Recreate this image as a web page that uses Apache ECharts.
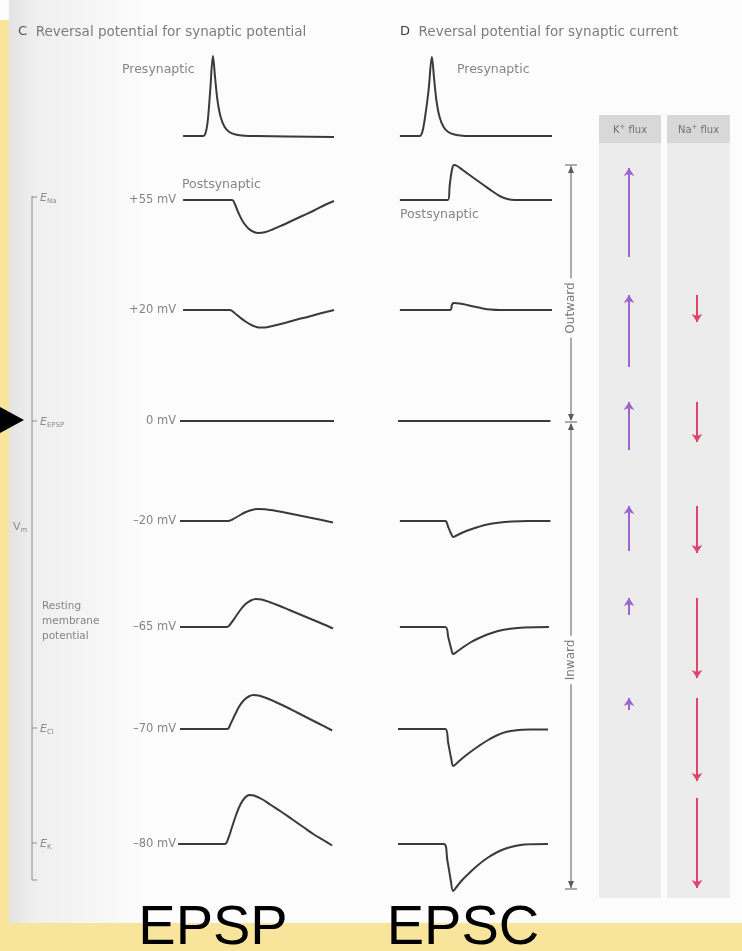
<!DOCTYPE html>
<html><head><meta charset="utf-8">
<script src="https://cdn.jsdelivr.net/npm/echarts@6/dist/echarts.min.js"></script>
<style>html,body{margin:0;padding:0;background:#fff}#c{width:742px;height:951px}</style>
</head><body><div id="c"></div>
<script>
// ---------- DATA (time in ms, deflection in display units, + = up) ----------
const rowLabels = ['+55 mV', '+20 mV', '0 mV', '\u201320 mV', '\u201365 mV', '\u201370 mV', '\u201380 mV'];
const presynC = [[1,0],[7.5,0],[8.3,3],[9,15],[9.8,45],[10.7,80],[11.4,58],[12.2,35],[13.2,19],[14.5,9],[16,4],[18,1.5],[21,0.3],[25,0],[50,-1]];
const presynD = [[0.6,0],[7,0],[7.8,3],[8.6,15],[9.9,45],[11,79],[11.7,58],[12.5,35],[13.5,19],[14.8,9],[16.3,4],[18.3,1.5],[21,0.3],[25,0],[50,0]];
const epspP55 = [[1,0],[16.9,0],[17.8,-4],[19,-13],[20.5,-22],[22.2,-28.5],[24,-32],[25.5,-33],[27.5,-32.2],[30,-29.5],[33,-25.5],[36.5,-20.5],[40,-15.5],[43.5,-10.5],[47,-5],[50,-1]];
const epspP20 = [[1,0],[16.2,0],[17.5,-2.5],[19.5,-7.5],[21.5,-12],[23.5,-15.5],[25.5,-17.5],[27.5,-17.5],[30,-16],[34,-13],[38,-9.5],[42,-6.5],[46,-3],[50,0]];
const epsp0   = [[0,0],[50,0]];
const epspM20 = [[0,0],[15.6,0],[17,1.5],[19,5],[21,8.5],[23,10.8],[25.3,12],[27.5,11.8],[30.5,10.5],[34,8.5],[38,6],[42,3.5],[46,1],[49.7,-1.5]];
const epspM65 = [[0,0],[15.3,0],[16.5,3.5],[18,10],[19.7,17.5],[21.3,23],[23,26.5],[24.6,28],[26.5,27.5],[29,25],[32,21.5],[35.5,17],[39,12.5],[42.5,8],[46,3.5],[49.7,-1.5]];
const epspM70 = [[0,0],[15.3,0],[16.4,5],[17.8,14],[19.3,23],[20.8,29],[22.3,32.5],[23.8,34],[25.5,33.5],[28,31],[31,27],[34.5,22],[38,16.5],[41.5,11],[45,5.5],[49.4,-1.5]];
const epspM80 = [[-0.6,0],[14.6,0],[15.6,5],[16.8,16],[18.2,29],[19.6,39.5],[21,46],[22.5,49],[24,48.5],[26.5,45],[29.5,39],[33,32],[36.5,24.5],[40,17],[43.5,9.5],[46.5,4],[49.4,-1.5]];
const epscP55 = [[0.6,0],[16.2,0],[16.8,15],[17.5,30],[18.2,35],[19.2,34],[21,30],[23,25.5],[25.5,20],[28,14.5],[30.5,9],[33,4],[35.5,1],[38,0],[50,0]];
const epscP20 = [[0.6,0],[16.9,0],[17.6,6],[18.3,7],[20,6.5],[22.5,5],[25,3.2],[27.5,1.6],[30,0.5],[33,0],[50,0]];
const epsc0   = [[0,0],[49.5,0]];
const epscM20 = [[0.6,0],[15.3,0],[16.3,-6],[17.3,-13],[17.9,-16],[19,-14.5],[21,-11.5],[23.5,-8.5],[26,-6],[29,-3.5],[32.5,-1.8],[37,-0.6],[42,0],[49.5,0]];
const epscM65 = [[0.6,0],[15.3,0],[16.3,-10],[17.3,-22],[17.9,-27],[19,-25],[21,-20.5],[23.5,-15.5],[26,-11.5],[29,-7.5],[32.5,-4],[36.5,-1.8],[41,-0.5],[49,0]];
const epscM70 = [[0,0],[15.3,0],[16.3,-14],[17.3,-30],[17.9,-37],[19,-34.5],[21,-29],[23.5,-23],[26,-17.5],[29,-11.5],[32,-6.5],[35,-3],[38.5,-1.2],[43,-0.6],[48.7,-0.5]];
const epscM80 = [[0,0],[14.9,0],[16,-16],[17.1,-36],[17.9,-47],[19,-43],[21,-35.5],[23.5,-28],[26,-21],[29,-14],[32,-8.5],[35,-4.5],[38,-2],[41,-0.5],[48.7,0]];
const kFlux  = [89, 72, 48, 45, 17, 12, 0];
const naFlux = [0, 27, 40, 47, 80, 83, 90];
const fluxHeaders = ['K', 'Na'];
const bottomLabels = ['EPSP', 'EPSC'];

// ---------- LAYOUT ----------
const PX = 3.08;             // px per ms
const C_X0 = 180, D_X0 = 398;
const presynBase = 136;
const rowBase = [200, 310, 421, 521, 627, 729, 844];
const fluxTop = [168, 295, 402, 506, 598, 698, 798];
const TRACE = '#3a3a3a', GREY = '#858585';
const FONT = '"DejaVu Sans", "Liberation Sans", sans-serif';

const epspRows = [epspP55, epspP20, epsp0, epspM20, epspM65, epspM70, epspM80];
const epscRows = [epscP55, epscP20, epsc0, epscM20, epscM65, epscM70, epscM80];

const grids = [], xAxes = [], yAxes = [], series = [];
function addTrace(x0, baseY, data) {
  const i = grids.length;
  grids.push({left: x0 - PX, top: baseY - 100, width: 51 * PX, height: 200});
  xAxes.push({type: 'value', gridIndex: i, min: -1, max: 50, show: false});
  yAxes.push({type: 'value', gridIndex: i, min: -100, max: 100, show: false});
  series.push({type: 'line', xAxisIndex: i, yAxisIndex: i, data: data, showSymbol: false,
    smooth: 0.35, silent: true, lineStyle: {color: TRACE, width: 2}});
}
addTrace(C_X0, presynBase, presynC);
addTrace(D_X0, presynBase, presynD);
epspRows.forEach((d, r) => addTrace(C_X0, rowBase[r], d));
epscRows.forEach((d, r) => addTrace(D_X0, rowBase[r], d));

function addFlux(top, k, na) {
  const i = grids.length;
  grids.push({left: 595, top: top, width: 136, height: 100});
  xAxes.push({type: 'value', gridIndex: i, min: 0, max: 2, show: false});
  yAxes.push({type: 'value', gridIndex: i, min: 0, max: 100, inverse: true, show: false});
  if (k > 0) series.push({type: 'lines', coordinateSystem: 'cartesian2d', xAxisIndex: i, yAxisIndex: i,
    symbol: ['none', 'arrow'], symbolSize: 8, silent: true,
    lineStyle: {color: '#9d66cf', width: 2, opacity: 1}, itemStyle: {color: '#9d66cf'},
    data: [{coords: [[0.5, k], [0.5, 0]]}]});
  if (na > 0) series.push({type: 'lines', coordinateSystem: 'cartesian2d', xAxisIndex: i, yAxisIndex: i,
    symbol: ['none', 'arrow'], symbolSize: 8, silent: true,
    lineStyle: {color: '#e0436c', width: 2, opacity: 1}, itemStyle: {color: '#e0436c'},
    data: [{coords: [[1.5, 0], [1.5, na]]}]});
}
fluxTop.forEach((t, r) => addFlux(t, kFlux[r], naFlux[r]));

// ---------- GRAPHICS (decoration & annotations) ----------
const g = [];
g.push({type: 'rect', z: -20, shape: {x: 0, y: 0, width: 742, height: 951}, style: {fill: '#fcfcfc'}});
g.push({type: 'rect', z: -19, shape: {x: 9, y: 0, width: 140, height: 923},
  style: {fill: new echarts.graphic.LinearGradient(0, 0, 1, 0, [
    {offset: 0, color: '#e3e3e3'}, {offset: 0.18, color: '#efefef'}, {offset: 1, color: '#fcfcfc'}])}});
g.push({type: 'rect', z: -18, shape: {x: 0, y: 20, width: 9, height: 903}, style: {fill: '#f8e59b'}});
g.push({type: 'rect', z: -18, shape: {x: 0, y: 923, width: 742, height: 28}, style: {fill: '#f8e59b'}});
// flux columns
[[599, 62], [667, 63]].forEach(([x, w], j) => {
  g.push({type: 'rect', z: -15, shape: {x: x, y: 143, width: w, height: 755}, style: {fill: '#ececec'}});
  g.push({type: 'rect', z: -15, shape: {x: x, y: 115, width: w, height: 28}, style: {fill: '#d8d8d8'}});
  g.push({type: 'text', z: 5, x: x + w / 2, y: 130, style: {
    text: '{a|' + fluxHeaders[j] + '}{p|+}{a| flux}', textAlign: 'center', textVerticalAlign: 'middle',
    rich: {a: {fontSize: 10, fontFamily: FONT, fill: '#707070'},
           p: {fontSize: 7, fontFamily: FONT, fill: '#707070', padding: [0, 0, 6, 0]}}}});
});
function txt(x, y, s, size, color, align) {
  g.push({type: 'text', z: 5, x: x, y: y, style: {text: s,
    font: size + 'px ' + FONT, fill: color, textAlign: align || 'left', textVerticalAlign: 'middle'}});
}
// titles
g.push({type: 'text', z: 5, x: 18, y: 32, style: {text: '{b|C}{a|  Reversal potential for synaptic potential}',
  textVerticalAlign: 'middle', rich: {b: {fontSize: 13, fontFamily: FONT, fill: '#505050'}, a: {fontSize: 13.5, fontFamily: FONT, fill: '#7c7c7c'}}}});
g.push({type: 'text', z: 5, x: 400, y: 32, style: {text: '{b|D}{a|  Reversal potential for synaptic current}',
  textVerticalAlign: 'middle', rich: {b: {fontSize: 13, fontFamily: FONT, fill: '#404040'}, a: {fontSize: 13.5, fontFamily: FONT, fill: '#7c7c7c'}}}});
txt(122, 70, 'Presynaptic', 12.5, GREY);
txt(457, 70, 'Presynaptic', 12.5, GREY);
txt(182, 185, 'Postsynaptic', 12.5, GREY);
txt(400, 215, 'Postsynaptic', 12.5, GREY);
// mV row labels
rowLabels.forEach((s, r) => txt(176, rowBase[r], s, 11.5, GREY, 'right'));
// left Vm axis
const AX = 32, AC = '#8c8c8c';
g.push({type: 'line', z: 4, shape: {x1: AX, y1: 196, x2: AX, y2: 880}, style: {stroke: AC, lineWidth: 1}});
[[197, 'Na'], [421, 'EPSP'], [728, 'Cl'], [843, 'K']].forEach(([y, sub]) => {
  g.push({type: 'line', z: 4, shape: {x1: AX, y1: y, x2: AX + 5, y2: y}, style: {stroke: AC, lineWidth: 1}});
  g.push({type: 'text', z: 5, x: AX + 8, y: y + 1, style: {text: '{e|E}{s|' + sub + '}', textVerticalAlign: 'middle',
    rich: {e: {fontSize: 11, fontStyle: 'italic', fontFamily: FONT, fill: AC},
           s: {fontSize: 7, fontFamily: FONT, fill: AC, padding: [6, 0, 0, 0]}}}});
});
g.push({type: 'line', z: 4, shape: {x1: AX, y1: 880, x2: AX + 5, y2: 880}, style: {stroke: AC, lineWidth: 1}});
g.push({type: 'text', z: 5, x: 13, y: 527, style: {text: '{e|V}{s|m}', textVerticalAlign: 'middle',
  rich: {e: {fontSize: 11, fontFamily: FONT, fill: AC}, s: {fontSize: 7, fontFamily: FONT, fill: AC, padding: [6, 0, 0, 0]}}}});
txt(42, 606, 'Resting', 10.5, GREY);
txt(42, 621, 'membrane', 10.5, GREY);
txt(42, 636, 'potential', 10.5, GREY);
// black pointer triangle
g.push({type: 'polygon', z: 6, shape: {points: [[0, 407], [24, 420], [0, 433]]}, style: {fill: '#000'}});
// outward / inward dimension axis
const OX = 571, OC = '#5a5a5a';
function seg(x1, y1, x2, y2) { g.push({type: 'line', z: 4, shape: {x1, y1, x2, y2}, style: {stroke: OC, lineWidth: 1}}); }
function head(y, dir) { g.push({type: 'polygon', z: 4, shape: {points: [[OX, y], [OX - 3, y + 7 * dir], [OX + 3, y + 7 * dir]]}, style: {fill: OC}}); }
seg(OX - 6, 165, OX + 6, 165); seg(OX, 166, OX, 420);
seg(OX - 6, 422, OX + 6, 422); seg(OX, 424, OX, 888);
seg(OX - 6, 889, OX + 6, 889);
head(166, 1); head(421, -1); head(423, 1); head(888, -1);
g.push({type: 'text', z: 6, x: OX, y: 308, rotation: Math.PI / 2, style: {text: 'Outward', font: '12px ' + FONT,
  fill: '#777', textAlign: 'center', textVerticalAlign: 'middle', backgroundColor: '#fcfcfc', padding: [0, 4]}});
g.push({type: 'text', z: 6, x: OX, y: 660, rotation: Math.PI / 2, style: {text: 'Inward', font: '12px ' + FONT,
  fill: '#777', textAlign: 'center', textVerticalAlign: 'middle', backgroundColor: '#fcfcfc', padding: [0, 4]}});
// big bottom labels
[[213, bottomLabels[0]], [463, bottomLabels[1]]].forEach(([x, s]) => {
  g.push({type: 'text', z: 20, x: x, y: 929, style: {text: s, font: '56px "Liberation Sans", Arial, sans-serif',
    fill: '#000', textAlign: 'center', textVerticalAlign: 'middle'}});
});

const chart = echarts.init(document.getElementById('c'), null, {renderer: 'canvas'});
chart.setOption({animation: false, backgroundColor: '#fcfcfc', grid: grids, xAxis: xAxes, yAxis: yAxes, series: series, graphic: {elements: g}});
</script></body></html>
